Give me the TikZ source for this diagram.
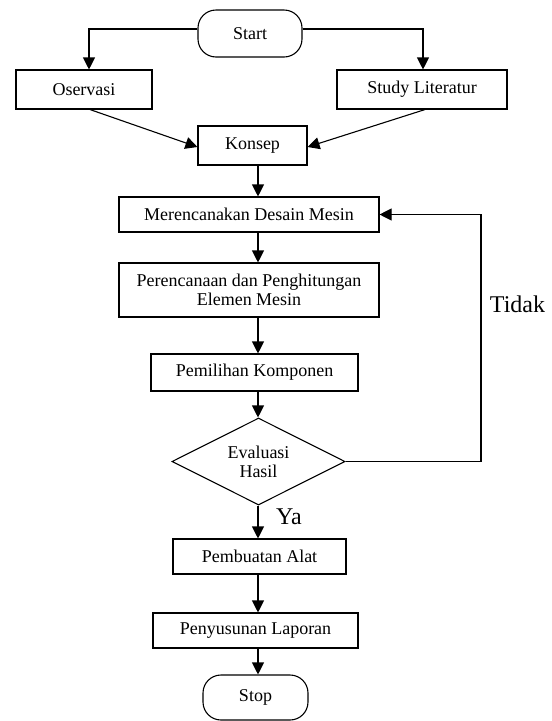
\documentclass[tikz,border=0pt]{standalone}
\usepackage{fontspec}
\setmainfont{Liberation Serif}
\usetikzlibrary{arrows.meta,shapes.geometric,calc}
\begin{document}
\begin{tikzpicture}[x=1pt,y=-1pt,
  font=\fontsize{18}{19}\selectfont,
  line width=1.1pt,
  box/.style={draw,rectangle,inner sep=0pt,align=center},
  term/.style={draw,rectangle,rounded corners=18pt,inner sep=0pt,align=center},
  decision/.style={draw,diamond,aspect=2,inner sep=0pt,align=center},
  arr/.style={-{Triangle[length=12pt,width=12pt]}},
  lbl/.style={font=\fontsize{24}{26}\selectfont,inner sep=0pt}
]
\fill[white] (0,0) rectangle (552,721);
\useasboundingbox (0,0) rectangle (552,721);

\node[term,minimum width=104pt,minimum height=47pt] (start) at (250,33.5) {Start};
\node[box,minimum width=136pt,minimum height=39pt] (oserv) at (84,89.5) {Oservasi};
\node[box,minimum width=170pt,minimum height=39pt] (study) at (422,89.5) {Study Literatur};
\node[box,minimum width=109pt,minimum height=39pt] (konsep) at (252.5,145.5) {Konsep};
\node[box,minimum width=260pt,minimum height=35pt] (meren) at (249,214.5) {Merencanakan Desain Mesin};
\node[box,minimum width=260pt,minimum height=54pt] (peren) at (249,290) {Perencanaan dan Penghitungan\\Elemen Mesin};
\node[box,minimum width=207pt,minimum height=37pt] (pemil) at (254.5,372.5) {Pemilihan Komponen};
\node[decision,minimum width=173pt,minimum height=87pt] (diam) at (258.5,461.5) {Evaluasi\\Hasil};
\node[box,minimum width=173pt,minimum height=35pt] (pemb) at (259.5,556.5) {Pembuatan Alat};
\node[box,minimum width=205pt,minimum height=35pt] (penyu) at (255.5,630.5) {Penyusunan Laporan};
\node[term,minimum width=105pt,minimum height=45pt] (stop) at (255.5,697.5) {Stop};

\node[lbl] (tidak) at (517.5,304) {Tidak};
\node[lbl] (ya) at (289,517) {Ya};

\coordinate (ax) at (258,0);
\coordinate (fb) at (481,0);

\draw[arr] ([yshift=4.5pt]start.west) -| ([xshift=5pt]oserv.north);
\draw[arr] ([yshift=4.5pt]start.east) -| ([xshift=1pt]study.north);
\draw[arr] ([xshift=6pt]oserv.south) -- ([yshift=-1.5pt]konsep.west);
\draw[arr] ([xshift=3pt]study.south) -- ([yshift=-1.5pt]konsep.east);
\draw[arr] (konsep.south -| ax) -- (meren.north -| ax);
\draw[arr] (meren.south -| ax) -- (peren.north -| ax);
\draw[arr] (peren.south -| ax) -- (pemil.north -| ax);
\draw[arr] (pemil.south -| ax) -- (diam.north -| ax);
\draw[arr] (diam.south -| ax) -- (pemb.north -| ax);
\draw[arr] (pemb.south -| ax) -- (penyu.north -| ax);
\draw[arr] (penyu.south -| ax) -- (stop.north -| ax);
\draw[arr] (diam.east) -- (diam.east -| fb) |- (meren.east);
\end{tikzpicture}
\end{document}
